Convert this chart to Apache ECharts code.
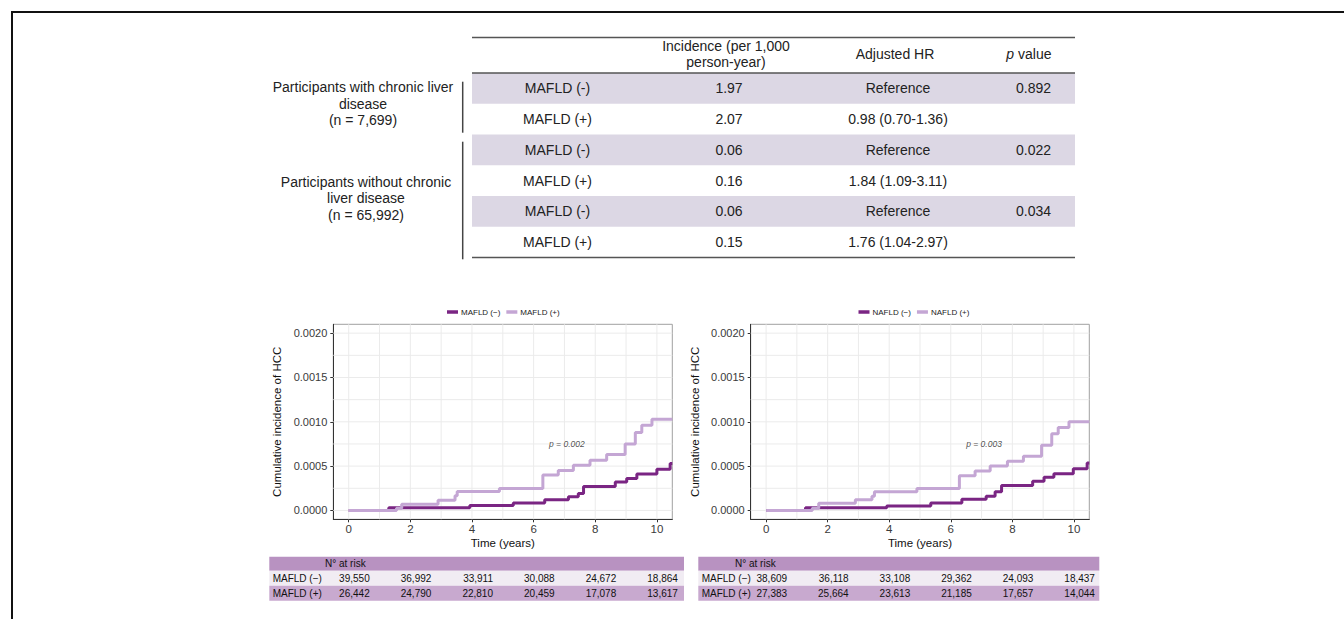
<!DOCTYPE html>
<html>
<head>
<meta charset="utf-8">
<script src="https://cdn.jsdelivr.net/npm/echarts@6/dist/echarts.min.js"></script>
<style>
  html, body { margin: 0; padding: 0; background: #fff; }
  #main { width: 1344px; height: 619px; }
</style>
</head>
<body>
<div id="main"></div>
<script>
// ---- Summary table ----
const headerIncidence = 'Incidence (per 1,000\nperson-year)';
const headerHR = 'Adjusted HR';
const groupLabels = ['Participants with chronic liver\ndisease\n(n = 7,699)',
                     'Participants without chronic\nliver disease\n(n = 65,992)'];
const rowGroups = ['MAFLD (-)', 'MAFLD (+)', 'MAFLD (-)', 'MAFLD (+)', 'MAFLD (-)', 'MAFLD (+)'];
const incidence = ['1.97', '2.07', '0.06', '0.16', '0.06', '0.15'];
const adjustedHR = ['Reference', '0.98 (0.70-1.36)', 'Reference', '1.84 (1.09-3.11)', 'Reference', '1.76 (1.04-2.97)'];
const pValues = ['0.892', '', '0.022', '', '0.034', ''];

// ---- Cumulative incidence curves: [time in years, cumulative incidence] at each step ----
const mafldNeg = [[0, 0], [1.3, 0.00003], [3.93, 0.000055], [5.34, 0.000085], [6.36, 0.00012], [7.13, 0.000155],
  [7.45, 0.00019], [7.62, 0.00027], [8.65, 0.00032], [9.02, 0.00036], [9.35, 0.00041], [10.0, 0.000465],
  [10.43, 0.00053], [10.5, 0.00053]];
const mafldPos = [[0, 0], [1.55, 0.000025], [1.72, 0.00007], [2.9, 0.000115], [3.45, 0.000165], [3.52, 0.000215],
  [4.89, 0.000247], [6.3, 0.0004], [6.8, 0.00045], [7.29, 0.00051], [7.83, 0.000565], [8.37, 0.00063],
  [8.97, 0.00075], [9.3, 0.00088], [9.51, 0.00096], [9.84, 0.00103], [10.5, 0.00103]];
const nafldNeg = [[0, 0], [1.28, 0.00003], [3.92, 0.00005], [5.35, 0.000085], [6.36, 0.000125], [7.15, 0.00016],
  [7.44, 0.00021], [7.65, 0.00028], [8.66, 0.00033], [9.03, 0.000375], [9.35, 0.000415], [9.98, 0.00047],
  [10.43, 0.000535], [10.5, 0.000535]];
const nafldPos = [[0, 0], [1.5, 0.000025], [1.71, 0.00008], [2.9, 0.00012], [3.44, 0.00016], [3.52, 0.00021],
  [4.9, 0.000247], [6.28, 0.00039], [6.79, 0.000445], [7.28, 0.0005], [7.84, 0.000555], [8.36, 0.00061],
  [8.95, 0.000735], [9.28, 0.000865], [9.49, 0.000935], [9.84, 0.001], [10.5, 0.001]];

const xTicks = [0, 2, 4, 6, 8, 10];
const yTicks = [0, 0.0005, 0.001, 0.0015, 0.002];
const xGrid = [0, 1, 2, 3, 4, 5, 6, 7, 8, 9, 10];
const yGrid = [0, 0.00025, 0.0005, 0.00075, 0.001, 0.00125, 0.0015, 0.00175, 0.002];

// ---- Numbers at risk ----
const riskTimes = [0, 2, 4, 6, 8, 10];
const riskRowLabels = ['MAFLD (\u2212)', 'MAFLD (+)'];
const mafldRiskNeg = [39550, 36992, 33911, 30088, 24672, 18864];
const mafldRiskPos = [26442, 24790, 22810, 20459, 17078, 13617];
const nafldRiskNeg = [38609, 36118, 33108, 29362, 24093, 18437];
const nafldRiskPos = [27383, 25664, 23613, 21185, 17657, 14044];

const FONT = '"Liberation Sans", Arial, Helvetica, sans-serif';
const DARK = '#7a2583';
const LIGHT = '#c4a6d4';
const X_MIN = -0.5, X_MAX = 10.5, Y_MIN = -0.0001, Y_MAX = 0.0021;
const fmt = n => String(n).replace(/\B(?=(\d{3})+(?!\d))/g, ',');

const panels = [
  { left: 333.3, width: 339, names: ['MAFLD (\u2212)', 'MAFLD (+)'], neg: mafldNeg, pos: mafldPos,
    p: 'p = 0.002', legendLeft: 447, risk: [mafldRiskNeg, mafldRiskPos], band: [269.3, 684], riskHead: 325, riskLab: 272.7 },
  { left: 750.7, width: 338.6, names: ['NAFLD (\u2212)', 'NAFLD (+)'], neg: nafldNeg, pos: nafldPos,
    p: 'p = 0.003', legendLeft: 858.5, risk: [nafldRiskNeg, nafldRiskPos], band: [698.3, 1099.3], riskHead: 735, riskLab: 701.7 }
];

const chart = echarts.init(document.getElementById('main'), null, { renderer: 'svg' });

const grids = [], xAxes = [], yAxes = [], series = [], legends = [];
panels.forEach((p, i) => {
  grids.push({ left: p.left, top: 324.3, width: p.width, height: 195, show: true,
    backgroundColor: '#fff', borderColor: '#a0a0a0', borderWidth: 1, outerBoundsMode: 'none' });
  xAxes.push({ type: 'value', gridIndex: i, min: X_MIN, max: X_MAX,
    splitLine: { show: false },
    axisLine: { show: true, onZero: false, lineStyle: { color: '#333', width: 1 } },
    axisTick: { show: true, length: 3, customValues: xTicks, lineStyle: { color: '#333' } },
    axisLabel: { customValues: xTicks, color: '#3a3a3a', fontSize: 11.5, fontFamily: FONT, margin: 4 },
    name: 'Time (years)', nameLocation: 'middle', nameGap: 18,
    nameTextStyle: { color: '#111', fontSize: 11.5, fontFamily: FONT } });
  yAxes.push({ type: 'value', gridIndex: i, min: Y_MIN, max: Y_MAX,
    splitLine: { show: false },
    axisLine: { show: true, onZero: false, lineStyle: { color: '#333', width: 1 } },
    axisTick: { show: true, length: 3, customValues: yTicks, lineStyle: { color: '#333' } },
    axisLabel: { customValues: yTicks, color: '#3a3a3a', fontSize: 11, fontFamily: FONT, margin: 6,
      formatter: v => v.toFixed(4) },
    name: 'Cumulative incidence of HCC', nameLocation: 'middle', nameGap: 50, nameRotate: 90,
    nameTextStyle: { color: '#111', fontSize: 11.5, fontFamily: FONT } });

  // background grid lines (one short series per line)
  const gridStyle = { type: 'line', xAxisIndex: i, yAxisIndex: i, showSymbol: false, silent: true, z: 1,
    lineStyle: { color: '#ebebeb', width: 1 }, animation: false, tooltip: { show: false } };
  xGrid.forEach(v => series.push(Object.assign({}, gridStyle, { data: [[v, Y_MIN], [v, Y_MAX]] })));
  yGrid.forEach(v => series.push(Object.assign({}, gridStyle, { data: [[X_MIN, v], [X_MAX, v]] })));

  series.push({ name: p.names[0], type: 'line', step: 'end', xAxisIndex: i, yAxisIndex: i, data: p.neg,
    showSymbol: false, color: DARK, lineStyle: { color: DARK, width: 3 }, z: 3, animation: false });
  series.push({ name: p.names[1], type: 'line', step: 'end', xAxisIndex: i, yAxisIndex: i, data: p.pos,
    showSymbol: false, color: LIGHT, lineStyle: { color: LIGHT, width: 3 }, z: 4, animation: false });

  // p value annotation
  series.push({ type: 'scatter', xAxisIndex: i, yAxisIndex: i, data: [[6.5, 0.00075]], symbolSize: 0, silent: true, z: 5,
    label: { show: true, position: 'right', distance: 0, formatter: p.p, fontStyle: 'italic', fontSize: 8.5,
      color: '#222', fontFamily: FONT } });

  legends.push({ data: p.names, left: p.legendLeft, top: 308, orient: 'horizontal', icon: 'rect',
    itemWidth: 11, itemHeight: 3.5, itemGap: 6, selectedMode: false, padding: 0,
    textStyle: { fontSize: 8, color: '#222', fontFamily: FONT, padding: [0, 0, 0, -2] } });
});

chart.setOption({
  animation: false,
  backgroundColor: '#fff',
  textStyle: { fontFamily: FONT },
  grid: grids, xAxis: xAxes, yAxis: yAxes, series: series, legend: legends
});

// ---- Static layout: frame, summary table, risk tables ----
const g = [];
const txt = (x, y, text, opt = {}) => g.push({ type: 'text', x, y, silent: true, z: 10,
  style: Object.assign({ text, fill: '#222', fontSize: 14, fontFamily: FONT, align: 'center', verticalAlign: 'middle' }, opt) });
const rect = (x, y, w, h, fill) => g.push({ type: 'rect', silent: true, z: 5, shape: { x, y, width: w, height: h }, style: { fill } });
const line = (x1, y1, x2, y2, stroke, lw) => g.push({ type: 'line', silent: true, z: 11,
  shape: { x1, y1, x2, y2 }, style: { stroke, lineWidth: lw } });

// outer frame
line(11, 12, 1344, 12, '#111', 2);
line(12, 11, 12, 619, '#111', 2);

// table body
const tL = 472, tR = 1075, bodyTop = 73, rowH = 30.75;
rowGroups.forEach((r, i) => {
  const top = bodyTop + i * rowH, cy = top + rowH / 2;
  if (i % 2 === 0) rect(tL, top, tR - tL, rowH, '#dcd7e4');
  txt(557.5, cy, r);
  txt(729, cy, incidence[i]);
  txt(898, cy, adjustedHR[i]);
  if (pValues[i]) txt(1051, cy, pValues[i], { align: 'right' });
});
line(tL, 37.5, tR, 37.5, '#555', 1.5);
line(tL, 73, tR, 73, '#555', 1.5);
line(tL, 257.5, tR, 257.5, '#555', 1.5);
txt(726, 53.5, headerIncidence, { lineHeight: 16 });
txt(895, 54, headerHR);
txt(1051.5, 54, '{i|p} value', { align: 'right',
  rich: { i: { fontStyle: 'italic', fontSize: 14, fontFamily: FONT, fill: '#222' } } });
txt(363, 103.8, groupLabels[0], { lineHeight: 16.4 });
txt(366, 198.4, groupLabels[1], { lineHeight: 16.4 });
line(462.7, 81.7, 462.7, 132.7, '#444', 1.5);
line(462.7, 141.7, 462.7, 259.3, '#444', 1.5);

// numbers at risk under each panel
panels.forEach((p, i) => {
  const [bx0, bx1] = p.band;
  rect(bx0, 556.7, bx1 - bx0, 14, '#b892c1');
  rect(bx0, 570.7, bx1 - bx0, 15, '#f1ecf3');
  rect(bx0, 585.7, bx1 - bx0, 15, '#c8a9cf');
  txt(p.riskHead, 563.7, 'N\u00b0 at risk', { fontSize: 10, align: 'left', fill: '#111' });
  riskRowLabels.forEach((lab, r) => txt(p.riskLab, 578.2 + r * 15, lab, { fontSize: 10, align: 'left', fill: '#111' }));
  riskTimes.forEach((t, k) => {
    const px = chart.convertToPixel({ gridIndex: i }, [t, 0])[0] + 21;
    p.risk.forEach((vals, r) => txt(px, 578.2 + r * 15, fmt(vals[k]), { fontSize: 10, align: 'right', fill: '#111' }));
  });
});

chart.setOption({ graphic: g });
</script>
</body>
</html>
